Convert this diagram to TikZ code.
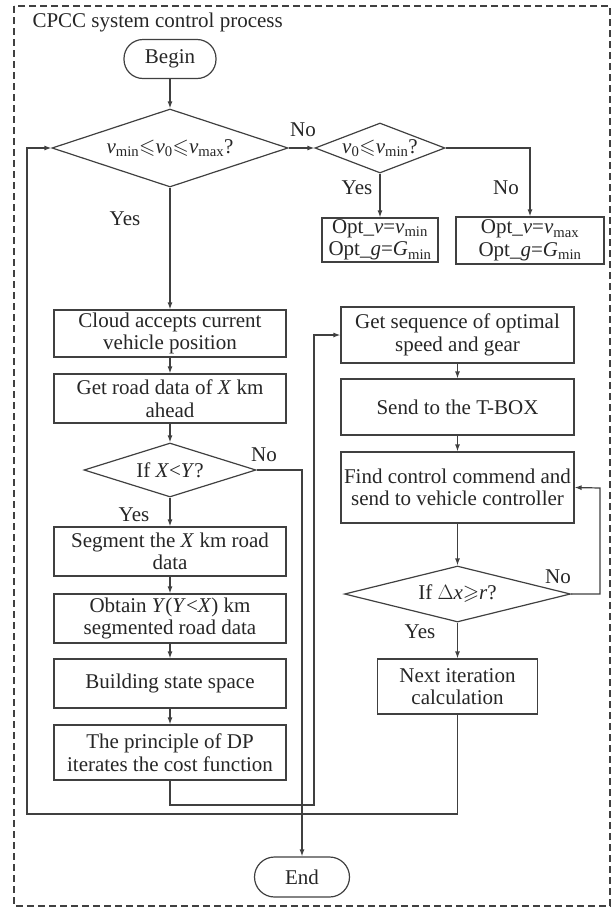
\documentclass[tikz,border=0pt]{standalone}
\usepackage{fontspec}
\setmainfont{Liberation Serif}
\usepackage{amssymb}
\usetikzlibrary{shapes.geometric,arrows.meta}

\begin{document}
\begin{tikzpicture}[x=1pt,y=-1pt,
    every node/.style={font=\fontsize{21}{22.5}\selectfont, text=black!85},
    wire/.style={draw=black!75, line width=1.2pt},
    proc/.style={wire, rectangle, align=center, inner sep=0pt},
    term/.style={wire, rectangle, rounded corners=19pt, minimum width=92pt, minimum height=39pt},
    decide/.style={wire, diamond, aspect=2.6, inner sep=0pt},
    arr/.style={wire, -{Latex[length=7pt,width=5pt]}}]
    \useasboundingbox (0,0) rectangle (612,908);
    \draw[black!75, line width=1.2pt, dash pattern=on 7pt off 4pt] (14,6) rectangle (610,906);
    \node[anchor=base west] (title) at (29,27) {CPCC system control process};

    % left column
    \node[term] (begin) at (170,59) {Begin};
    \node[decide, minimum width=236pt, minimum height=78pt] (d1) at (170,148)
        {\textit{v}\textsubscript{min}$\leqslant$\textit{v}\textsubscript{0}$\leqslant$\textit{v}\textsubscript{max}?};
    \node[decide, minimum width=130pt, minimum height=50pt] (d2) at (380,148)
        {\textit{v}\textsubscript{0}$\leqslant$\textit{v}\textsubscript{min}?};
    \node[proc, minimum width=116pt, minimum height=44pt] (opt1) at (380,240)
        {Opt\_\textit{v}=\textit{v}\textsubscript{min}\\Opt\_\textit{g}=\textit{G}\textsubscript{min}};
    \node[proc, minimum width=148pt, minimum height=47pt] (opt2) at (530,240.5)
        {Opt\_\textit{v}=\textit{v}\textsubscript{max}\\Opt\_\textit{g}=\textit{G}\textsubscript{min}};
    \node[proc, minimum width=232pt, minimum height=47pt] (cloud) at (170,333.5)
        {Cloud accepts current\\vehicle position};
    \node[proc, minimum width=232pt, minimum height=49pt] (road) at (170,398.5)
        {Get road data of \textit{X} km\\ahead};
    \node[decide, minimum width=172pt, minimum height=54pt] (d3) at (170,470)
        {If \textit{X}<\textit{Y}?};
    \node[proc, minimum width=232pt, minimum height=49pt] (seg) at (170,551.5)
        {Segment the \textit{X} km road\\data};
    \node[proc, minimum width=232pt, minimum height=49pt] (obt) at (170,618.5)
        {Obtain \textit{Y}(\textit{Y}<\textit{X}) km\\segmented road data};
    \node[proc, minimum width=232pt, minimum height=49pt] (build) at (170,683.5)
        {Building state space};
    \node[proc, minimum width=232pt, minimum height=55pt] (dp) at (170,752.5)
        {The principle of DP\\iterates the cost function};

    % right column
    \node[proc, minimum width=233pt, minimum height=56pt] (getseq) at (457.5,335)
        {Get sequence of optimal\\speed and gear};
    \node[proc, minimum width=233pt, minimum height=56pt] (send) at (457.5,407)
        {Send to the T-BOX};
    \node[proc, minimum width=233pt, minimum height=71pt] (find) at (457.5,487.5)
        {Find control commend and\\send to vehicle controller};
    \node[decide, minimum width=226pt, minimum height=56pt] (d4) at (457.5,594)
        {If $\Delta$\textit{x}$\geqslant$\textit{r}?};
    \node[proc, minimum width=160pt, minimum height=55pt] (next) at (457.5,686.5)
        {Next iteration\\calculation};
    \node[term, minimum width=95pt, minimum height=40pt, rounded corners=20pt] (end) at (302,877) {End};

    % labels
    \node (no1) at (303,130) {No};
    \node (yes1) at (125,219) {Yes};
    \node (yes2) at (357,188) {Yes};
    \node (no2) at (506,188) {No};
    \node (no3) at (264,455) {No};
    \node (yes3) at (134,515) {Yes};
    \node (no4) at (558,577) {No};
    \node (yes4) at (420,632) {Yes};

    % connectors
    \coordinate (back) at (27,814);
    \coordinate (dpturn) at (314,805);
    \coordinate (nback) at (600,488);
    \draw[arr] (begin) -- (d1);
    \draw[arr] (d1.east) -- (d2.west);
    \draw[arr] (d2.south) -- (opt1.north);
    \draw[arr] (d2.east) -| (opt2.north);
    \draw[arr] (d1.south) -- (cloud.north);
    \draw[arr] (cloud) -- (road);
    \draw[arr] (road) -- (d3);
    \draw[arr] (d3) -- (seg);
    \draw[arr] (seg) -- (obt);
    \draw[arr] (obt) -- (build);
    \draw[arr] (build) -- (dp);
    \draw[arr] (d3.east) -| (end.north);
    \draw[arr] (dp.south) |- (dpturn) |- (getseq.west);
    \draw[arr] (getseq) -- (send);
    \draw[arr] (send) -- (find);
    \draw[arr] (find) -- (d4);
    \draw[arr] (d4) -- (next);
    \draw[arr] (d4.east) -| (nback) -- (find.east);
    \draw[arr] (next.south) |- (back) |- (d1.west);
\end{tikzpicture}
\end{document}
